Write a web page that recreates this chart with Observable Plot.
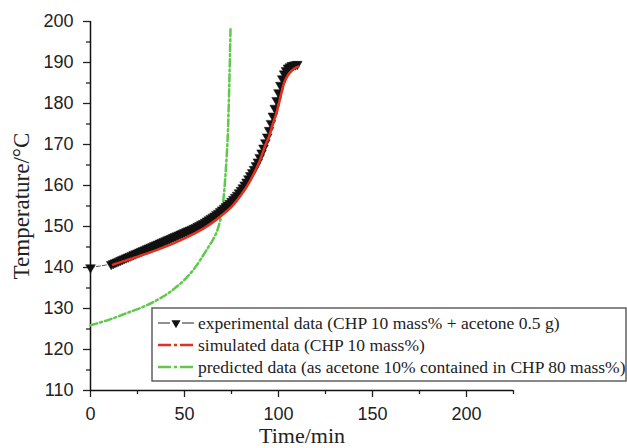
<!DOCTYPE html>
<html>
<head>
<meta charset="utf-8">
<script src="https://cdn.jsdelivr.net/npm/d3@7"></script>
<script src="https://cdn.jsdelivr.net/npm/@observablehq/plot@0.6"></script>
<style>
  html, body { margin: 0; padding: 0; background: #fff; }
  #chart { width: 627px; height: 448px; }
</style>
</head>
<body>
<div id="chart"></div>
<script>
// Experimental data (CHP 10 mass% + acetone 0.5 g)
const expTime = [0,
  11, 12, 13, 14, 15, 16, 17, 18, 19, 20,
  21, 22, 23, 24, 25, 26, 27, 28, 29, 30,
  31, 32, 33, 34, 35, 36, 37, 38, 39, 40,
  41, 42, 43, 44, 45, 46, 47, 48, 49, 50,
  51, 52, 53, 54, 55, 56, 57, 58, 59, 60,
  61, 62, 63, 64, 65, 66, 67, 68, 69, 70,
  71, 72, 73, 74, 75, 76, 77, 78, 79, 80,
  81, 82, 83, 84, 85, 86, 87, 88, 89, 90,
  91, 92, 93, 94, 95, 96, 97, 98, 99, 100,
  101, 102, 103, 104, 105, 106, 107, 108, 109, 110];
const expTemp = [140.0,
  140.8, 141.0, 141.2, 141.4, 141.6, 141.8, 142.0, 142.2, 142.4, 142.6,
  142.8, 143.0, 143.2, 143.4, 143.6, 143.8, 144.0, 144.2, 144.4, 144.6,
  144.8, 145.0, 145.2, 145.4, 145.6, 145.8, 146.0, 146.2, 146.4, 146.6,
  146.8, 147.0, 147.2, 147.4, 147.6, 147.8, 148.0, 148.2, 148.4, 148.6,
  148.8, 149.0, 149.2, 149.4, 149.6, 149.8, 150.1, 150.3, 150.6, 150.8,
  151.1, 151.4, 151.7, 152.0, 152.3, 152.6, 153.0, 153.3, 153.7, 154.1,
  154.5, 154.9, 155.3, 155.7, 156.2, 156.7, 157.2, 157.7, 158.3, 158.9,
  159.5, 160.2, 160.9, 161.7, 162.5, 163.2, 164.0, 164.9, 165.8, 166.9,
  168.0, 169.2, 170.5, 171.9, 173.5, 175.2, 177.0, 178.9, 180.8, 182.7,
  184.5, 186.1, 187.3, 188.1, 188.7, 189.0, 189.3, 189.4, 189.5, 189.6];

// Simulated data (CHP 10 mass%)
const simTime = [12, 20, 30, 40, 50, 60, 65, 70, 75, 80, 85, 90, 93, 95, 97, 99, 101, 103, 105, 107, 109, 110.5];
const simTemp = [140.7, 141.9, 143.4, 145.1, 147.1, 149.5, 151.0, 152.8, 154.8, 157.6, 161.2, 166.0, 169.8, 172.0, 175.0, 177.8, 181.5, 185.0, 186.9, 188.0, 188.7, 189.0];

// Predicted data (as acetone 10% contained in CHP 80 mass%)
const predTime = [0, 10, 20, 30, 40, 45, 50, 55, 60, 63, 65, 67, 69, 70, 71, 72, 73, 73.5, 74, 74.5];
const predTemp = [125.9, 127.3, 129.0, 130.8, 133.3, 135.0, 137.0, 139.6, 143.0, 145.2, 146.7, 148.5, 151.5, 154.0, 158.0, 164.0, 172.0, 179.0, 188.0, 198.5];

const xMajorTicks = [0, 50, 100, 150, 200];
const xMinorTicks = [25, 75, 125, 175, 225];
const yMajorTicks = [110, 120, 130, 140, 150, 160, 170, 180, 190, 200];
const yMinorTicks = [115, 125, 135, 145, 155, 165, 175, 185, 195];

const legendLabels = [
  "experimental data (CHP 10 mass% + acetone 0.5 g)",
  "simulated data (CHP 10 mass%)",
  "predicted data (as acetone 10% contained in CHP 80 mass%)"
];

const RED = "#e3301f";
const GREEN = "#5fc94c";
const SANS = "Liberation Sans, Arial, Helvetica, sans-serif";
const SERIF = "Liberation Serif, Times New Roman, serif";

const exp = expTime.map((t, i) => ({t, v: expTemp[i]}));
const sim = simTime.map((t, i) => ({t, v: simTemp[i]}));
const pred = predTime.map((t, i) => ({t, v: predTemp[i]}));

const chart = Plot.plot({
  width: 627,
  height: 448,
  marginLeft: 90,
  marginRight: 114,
  marginTop: 21,
  marginBottom: 58,
  style: {fontFamily: SANS, fontSize: "18px", color: "#222", background: "#fff", overflow: "visible"},
  x: {domain: [0, 225]},
  y: {domain: [110, 200]},
  marks: [
    Plot.axisX({ticks: xMajorTicks, tickSize: 7, tickPadding: 10, tickFormat: d => String(d), fontSize: 18, fontFamily: SANS, label: null, strokeWidth: 1.3}),
    Plot.axisX({ticks: xMinorTicks, tickSize: 4, text: null, label: null, strokeWidth: 1.3}),
    Plot.axisX({ticks: [], label: "Time/min", labelAnchor: "center", labelArrow: "none", labelOffset: 52, fontFamily: SERIF, fontSize: 22}),
    Plot.axisY({ticks: yMajorTicks, tickSize: 7, tickPadding: 10, tickFormat: d => String(d), fontSize: 18, fontFamily: SANS, label: null, strokeWidth: 1.3}),
    Plot.axisY({ticks: yMinorTicks, tickSize: 4, text: null, label: null, strokeWidth: 1.3}),
    Plot.axisY({ticks: [], label: "Temperature/°C", labelAnchor: "center", labelArrow: "none", labelOffset: 78, fontFamily: SERIF, fontSize: 23}),
    Plot.ruleX([0], {y1: 110, y2: 200, stroke: "#111", strokeWidth: 1.5}),
    Plot.ruleY([110], {x1: 0, x2: 225, stroke: "#111", strokeWidth: 1.5}),
    Plot.line(pred, {x: "t", y: "v", stroke: GREEN, strokeWidth: 2.5, strokeDasharray: "7,3,2,3", curve: "catmull-rom"}),
    Plot.line(exp, {x: "t", y: "v", stroke: "#333", strokeWidth: 0.8, strokeDasharray: "4,2"}),
    Plot.dot(exp, {x: "t", y: "v", symbol: "triangle", rotate: 180, r: 3.6, fill: "#111", stroke: "#111", strokeWidth: 0.5}),
    Plot.line(sim, {x: "t", y: "v", stroke: RED, strokeWidth: 2.6, curve: "catmull-rom"})
  ]
});

document.getElementById("chart").appendChild(chart);

// Legend drawn inside the SVG
const svg = d3.select(chart);
const lg = svg.append("g").attr("class", "legend").attr("text-anchor", "start");
const bx = 152, by = 308, bw = 474, bh = 73;
lg.append("rect").attr("x", bx).attr("y", by).attr("width", bw).attr("height", bh)
  .attr("fill", "#fff").attr("stroke", "#555").attr("stroke-width", 1.4);
const rowY = [323, 345, 367];
const styles = [
  {stroke: "#555", dash: null, marker: true, width: 1.3},
  {stroke: RED, dash: "13,3,3,3", marker: false, width: 2.4},
  {stroke: GREEN, dash: "13,3,3,3", marker: false, width: 2.4}
];
legendLabels.forEach((label, i) => {
  const y = rowY[i];
  const s = styles[i];
  if (s.marker) {
    lg.append("line").attr("x1", 158).attr("x2", 170).attr("y1", y).attr("y2", y).attr("stroke", s.stroke).attr("stroke-width", s.width);
    lg.append("line").attr("x1", 182).attr("x2", 194).attr("y1", y).attr("y2", y).attr("stroke", s.stroke).attr("stroke-width", s.width);
    lg.append("path").attr("d", d3.symbol(d3.symbolTriangle, 36)()).attr("transform", `translate(176,${y}) rotate(180)`).attr("fill", "#111");
  } else {
    lg.append("line").attr("x1", 158).attr("x2", 194).attr("y1", y).attr("y2", y)
      .attr("stroke", s.stroke).attr("stroke-width", s.width).attr("stroke-dasharray", s.dash);
  }
  lg.append("text").attr("x", 198).attr("y", y).attr("dy", "0.35em").attr("text-anchor", "start")
    .attr("font-family", SERIF).attr("font-size", 17.5).attr("fill", "#222").text(label);
});
</script>
</body>
</html>
